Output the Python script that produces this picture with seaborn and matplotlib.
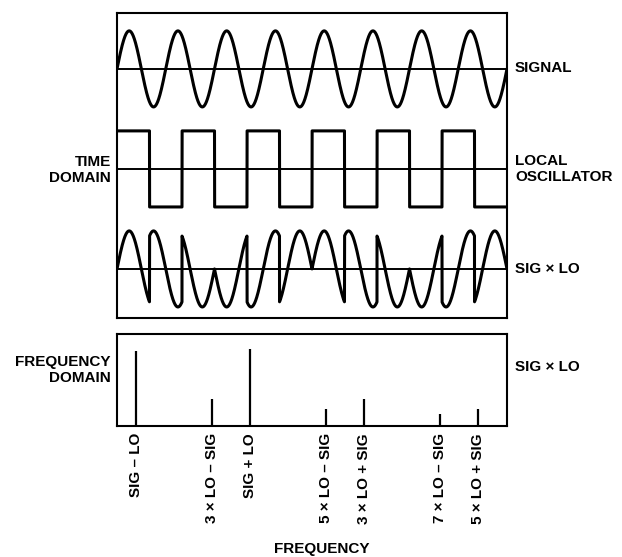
import numpy as np
import pandas as pd
import matplotlib
matplotlib.use("Agg")
import matplotlib.pyplot as plt
import seaborn as sns

sns.set_style("white")
plt.rcParams["font.family"] = ["Liberation Sans", "DejaVu Sans"]
plt.rcParams["font.weight"] = "bold"
plt.rcParams["text.color"] = "black"
plt.rcParams["xtick.color"] = "black"
plt.rcParams["xtick.labelcolor"] = "black"

# ── data ─────────────────────────────────────────────
sig_cycles = 8          # signal cycles across the window
lo_cycles = 6           # local oscillator cycles across the window
row_offsets = [0.0, -2.63, -5.26]   # centre of each time-domain trace
row_labels = ["SIGNAL", "LOCAL\nOSCILLATOR", "SIG × LO"]

freq_pos = [2, 10, 14, 22, 26, 34, 38]
freq_amp = [75, 27, 77, 17, 27, 12, 17]
freq_labels = ["SIG – LO", "3 × LO – SIG", "SIG + LO", "5 × LO – SIG",
               "3 × LO + SIG", "7 × LO – SIG", "5 × LO + SIG"]

W, H = 622, 557
FS = 11
LW_WAVE = 2.2
LW_FRAME = 1.5

t = np.linspace(0, 1, 8001)
sig = np.sin(2 * np.pi * sig_cycles * t)
lo = np.where(np.sin(2 * np.pi * lo_cycles * t) >= 0, 1.0, -1.0)
mix = sig * lo

fig = plt.figure(figsize=(W / 100, H / 100), dpi=100)

def frac(x0, y0, x1, y1):
    return [x0 / W, 1 - y1 / H, (x1 - x0) / W, (y1 - y0) / H]

# ── time domain ──────────────────────────────────────
ax_t = fig.add_axes(frac(117, 13, 507, 318))
for trace, off in zip([sig, lo, mix], row_offsets):
    ax_t.axhline(off, color="black", lw=1.4, zorder=1)
    sns.lineplot(x=t, y=trace + off, ax=ax_t, color="black", lw=LW_WAVE,
                 estimator=None, sort=False, zorder=2)
ax_t.set_xlim(0, 1)
ax_t.set_ylim(-6.55, 1.47)

# ── frequency domain ─────────────────────────────────
ax_f = fig.add_axes(frac(117, 334, 507, 426))
ax_f.vlines(freq_pos, 0, freq_amp, color="black", lw=1.6)
ax_f.set_xlim(0, 41)
ax_f.set_ylim(0, 92)
ax_f.set_xticks(freq_pos)
ax_f.set_xticklabels(freq_labels, rotation=90, fontsize=FS, color="black",
                     fontweight="bold", va="top", ha="center")
ax_f.tick_params(axis="x", length=0, pad=5)

for ax in (ax_t, ax_f):
    ax.set_yticks([])
    if ax is ax_t:
        ax.set_xticks([])
    for s in ax.spines.values():
        s.set_visible(True)
        s.set_color("black")
        s.set_linewidth(LW_FRAME)

# ── side labels ──────────────────────────────────────
txt = dict(fontsize=FS, fontweight="bold", va="center", linespacing=1.1,
           color="black")
right_y = [68, 169, 269]
for lab, y in zip(row_labels, right_y):
    fig.text(515 / W, 1 - y / H, lab, ha="left", **txt)
fig.text(515 / W, 1 - 367 / H, "SIG × LO", ha="left", **txt)
fig.text(111 / W, 1 - 170 / H, "TIME\nDOMAIN", ha="right", multialignment="right", **txt)
fig.text(111 / W, 1 - 370 / H, "FREQUENCY\nDOMAIN", ha="right", multialignment="right", **txt)
fig.text(322 / W, 1 - 549 / H, "FREQUENCY", ha="center", **txt)

fig.savefig("out.png", dpi=100)
